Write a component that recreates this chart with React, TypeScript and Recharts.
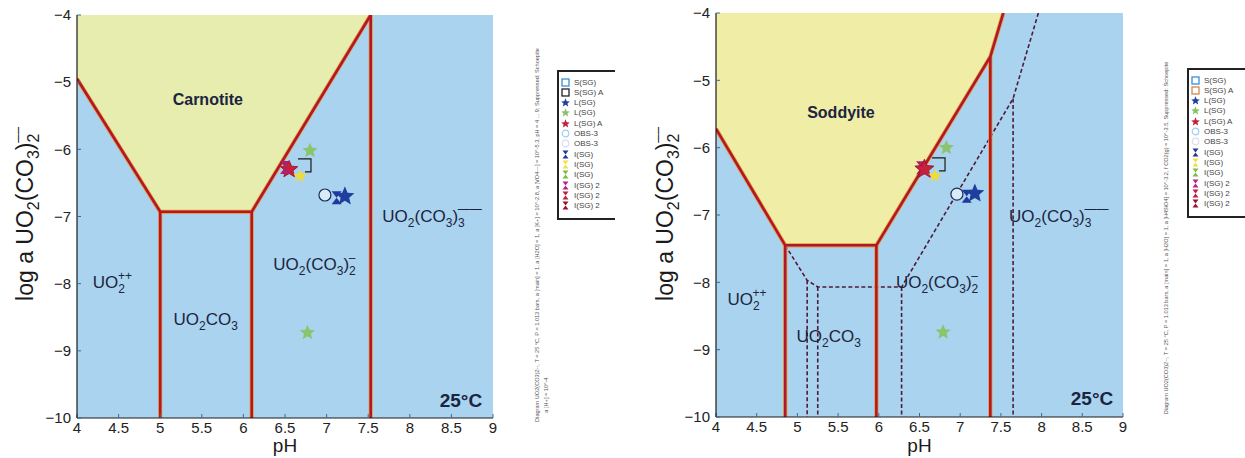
import React from "react";
import { ComposedChart, XAxis, YAxis, Area, Line, Scatter, CartesianGrid } from "recharts";

// ---------- axes ----------
const pHTicks = [4, 4.5, 5, 5.5, 6, 6.5, 7, 7.5, 8, 8.5, 9];
const logTicks = [-10, -9, -8, -7, -6, -5, -4];

// ---------- Carnotite diagram (left) ----------
const carnotiteField = [[4, -4.95], [5, -6.93], [6.1, -6.93], [7.53, -4]];
const carnotiteSolid = [
  [[4, -4.95], [5, -6.93], [6.1, -6.93], [7.53, -4]],
  [[5, -6.93], [5, -10]],
  [[6.1, -6.93], [6.1, -10]],
  [[7.53, -4], [7.53, -10]],
];
const carnotiteDashed: number[][][] = [];

// ---------- Soddyite diagram (right) ----------
const soddyiteField = [[4, -5.72], [4.85, -7.45], [5.97, -7.45], [7.37, -4.65], [7.53, -4]];
const soddyiteSolid = [
  [[4, -5.72], [4.85, -7.45], [5.97, -7.45], [7.37, -4.65], [7.53, -4]],
  [[4.85, -7.45], [4.85, -10]],
  [[5.97, -7.45], [5.97, -10]],
  [[7.37, -4.65], [7.37, -10]],
];
const soddyiteDashed = [
  [[4.85, -7.45], [5.12, -7.97], [5.25, -8.07], [6.28, -8.07], [7.65, -5.27], [7.96, -4]],
  [[5.12, -7.97], [5.12, -10]],
  [[5.25, -8.07], [5.25, -10]],
  [[6.28, -8.07], [6.28, -10]],
  [[7.65, -5.27], [7.65, -10]],
];

// ---------- sample points ----------
const bracketL = [[6.74, -6.23]];
const redStarL = [[6.55, -6.3]];
const magentaL = [[6.5, -6.27]];
const yellowL = [[6.68, -6.4]];
const greenStarL = [[6.8, -6.02], [6.77, -8.73]];
const circleL = [[6.98, -6.68]];
const blueHourL = [[7.12, -6.72]];
const blueStarL = [[7.22, -6.7]];

const bracketR = [[6.74, -6.24]];
const redStarR = [[6.56, -6.32]];
const magentaR = [[6.52, -6.3]];
const yellowR = [[6.69, -6.42]];
const greenStarR = [[6.83, -6.0], [6.79, -8.74]];
const circleR = [[6.96, -6.69]];
const blueHourR = [[7.08, -6.72]];
const blueStarR = [[7.18, -6.68]];

// ---------- region labels (left edge / baseline) ----------
const labelsL = [
  { id: "Carnotite", pH: 5.15, v: -5.34 },
  { id: "UO2++", pH: 4.19, v: -8.06 },
  { id: "UO2CO3", pH: 5.16, v: -8.61 },
  { id: "UO2(CO3)2-", pH: 6.36, v: -7.8 },
  { id: "UO2(CO3)3---", pH: 7.67, v: -7.08 },
  { id: "25°C", pH: 8.87, v: -9.83 },
];
const labelsR = [
  { id: "Soddyite", pH: 5.12, v: -5.56 },
  { id: "UO2++", pH: 4.14, v: -8.34 },
  { id: "UO2CO3", pH: 4.99, v: -8.89 },
  { id: "UO2(CO3)2-", pH: 6.21, v: -8.09 },
  { id: "UO2(CO3)3---", pH: 7.6, v: -7.11 },
  { id: "25°C", pH: 8.88, v: -9.82 },
];

// ---------- legend ----------
const legendNames = ["S(SG)", "S(SG) A", "L(SG)", "L(SG)", "L(SG) A", "OBS-3", "OBS-3", "I(SG)", "I(SG)", "I(SG)", "I(SG) 2", "I(SG) 2", "I(SG) 2"];
const legendKinds = ["sq", "sq", "star", "star", "star", "circ", "circ", "hour", "hour", "hour", "hour", "hour", "hour"];
const legendColorsL = ["#3b8fd9", "#222222", "#1f3f9f", "#86c46a", "#c2203c", "#9fcff0", "#dcdcee", "#23399a", "#f0e040", "#7cbf45", "#b8208c", "#c21e3e", "#9c1030"];
const legendColorsR = ["#3b8fd9", "#d08a50", "#1f3f9f", "#86c46a", "#c2203c", "#9fcff0", "#dcdcee", "#23399a", "#f0e040", "#7cbf45", "#b8208c", "#c21e3e", "#9c1030"];

const diagramNoteL =
  "Diagram UO2(CO3)2--,  T = 25 °C,  P = 1.013 bars,  a [main] = 1,  a [H2O] = 1,  a [K+] = 10^-2.8,  a [VO4---] = 10^-5.3,  pH = 4 ... 9;  Suppressed: Schoepite";
const diagramNoteL2 = "a [H+] = 10^-4";
const diagramNoteR =
  "Diagram UO2(CO3)2--,  T = 25 °C,  P = 1.013 bars,  a [main] = 1,  a [H2O] = 1,  a [H4SiO4] = 10^-3.2,  f CO2(g) = 10^-3.5,  Suppressed: Schoepite";

// ---------- helpers ----------
const toPts = (seg: number[][]) => seg.map(([pH, v]) => ({ pH, v }));
const toField = (f: number[][]) => f.map(([pH, v]) => ({ pH, r: [v, -4] }));
const minus = (v: number) => String(v).replace("-", "\u2212");

function starPath(cx: number, cy: number, R: number) {
  let d = "";
  for (let i = 0; i < 10; i++) {
    const rad = i % 2 === 0 ? R : R * 0.45;
    const a = -Math.PI / 2 + (i * Math.PI) / 5;
    d += (i ? "L" : "M") + (cx + rad * Math.cos(a)).toFixed(2) + "," + (cy + rad * Math.sin(a)).toFixed(2);
  }
  return d + "Z";
}
const hourPath = (cx: number, cy: number, s: number) =>
  `M${cx - s},${cy - s * 1.3}L${cx + s},${cy - s * 1.3}L${cx - s},${cy + s * 1.3}L${cx + s},${cy + s * 1.3}Z`;

const star = (fill: string, R: number, stroke = "none") => (p: any) =>
  <path d={starPath(p.cx, p.cy, R)} fill={fill} stroke={stroke} strokeWidth={0.8} />;
const hour = (fill: string, s: number) => (p: any) => <path d={hourPath(p.cx, p.cy, s)} fill={fill} />;
const bracket = (p: any) => (
  <path d={`M${p.cx - 7},${p.cy - 6}L${p.cx + 6},${p.cy - 6}L${p.cx + 6},${p.cy + 7}L${p.cx},${p.cy + 7}`} fill="none" stroke="#1a1a1a" strokeWidth={1.2} />
);
const circle = (p: any) => <circle cx={p.cx} cy={p.cy} r={6} fill="#d8ecf8" stroke="#1d2a60" strokeWidth={1.2} />;

const TXT = "#1c2440";
function RegionText(p: any) {
  const id = p.payload?.id ?? p.id;
  const x = p.cx;
  const y = p.cy;
  const F = 17;
  const S = 12;
  if (id === "Carnotite" || id === "Soddyite")
    return <text x={x} y={y} fontSize={16} fontWeight="bold" fill={TXT}>{id}</text>;
  if (id === "25°C")
    return <text x={x} y={y} fontSize={19} fontWeight="bold" fill={TXT} textAnchor="end">25°C</text>;
  if (id === "UO2++")
    return (
      <text x={x} y={y} fontSize={F} fill={TXT}>
        UO<tspan fontSize={S} dy={5}>2</tspan>
        <tspan fontSize={S} dx={-7} dy={-13}>++</tspan>
      </text>
    );
  if (id === "UO2CO3")
    return (
      <text x={x} y={y} fontSize={F} fill={TXT}>
        UO<tspan fontSize={S} dy={5}>2</tspan>
        <tspan dy={-5}>CO</tspan>
        <tspan fontSize={S} dy={5}>3</tspan>
      </text>
    );
  if (id === "UO2(CO3)2-")
    return (
      <text x={x} y={y} fontSize={F} fill={TXT}>
        UO<tspan fontSize={S} dy={5}>2</tspan>
        <tspan dy={-5}>(CO</tspan>
        <tspan fontSize={S} dy={5}>3</tspan>
        <tspan dy={-5}>)</tspan>
        <tspan fontSize={S} dy={5}>2</tspan>
        <tspan fontSize={S} dx={-7} dy={-13}>{"\u2013"}</tspan>
      </text>
    );
  if (id === "UO2(CO3)3---")
    return (
      <text x={x} y={y} fontSize={F} fill={TXT}>
        UO<tspan fontSize={S} dy={5}>2</tspan>
        <tspan dy={-5}>(CO</tspan>
        <tspan fontSize={S} dy={5}>3</tspan>
        <tspan dy={-5}>)</tspan>
        <tspan fontSize={S} dy={5}>3</tspan>
        <tspan fontSize={S} dx={-7} dy={-14}>{"\u2014\u2014"}</tspan>
      </text>
    );
  return null;
}

const YLabel = (props: any) => {
  const vb = props.viewBox || { x: 0, y: 0, width: 0, height: 0 };
  const cx = vb.x + 33;
  const cy = 214;
  return (
    <text x={cx} y={cy} transform={`rotate(-90 ${cx} ${cy})`} textAnchor="middle" fontSize={23} fill="#1a1a1a">
      log a UO<tspan fontSize={16} dy={6}>2</tspan>
      <tspan dy={-6}>(CO</tspan>
      <tspan fontSize={16} dy={6}>3</tspan>
      <tspan dy={-6}>)</tspan>
      <tspan fontSize={16} dy={6}>2</tspan>
      <tspan fontSize={14} dx={-9} dy={-17}>{"\u2013\u2013"}</tspan>
    </text>
  );
};
const XLabel = (props: any) => {
  const vb = props.viewBox || { x: 0, y: 0, width: 0, height: 0 };
  return (
    <text x={vb.x + vb.width / 2} y={452} textAnchor="middle" fontSize={19} fill="#1a1a1a">pH</text>
  );
};

type PanelProps = {
  left: number;
  width: number;
  top: number;
  bottom: number;
  yAxisWidth: number;
  field: number[][];
  fieldColor: string;
  solid: number[][][];
  dashed: number[][][];
  markers: { pts: number[][]; shape: any }[];
  labels: { id: string; pH: number; v: number }[];
};

function Panel(p: PanelProps) {
  const tickStyle = { fontSize: 15, fill: "#222" };
  return (
    <div style={{ position: "absolute", left: p.left, top: 0 }}>
      <ComposedChart
        width={p.width}
        height={458}
        data={toField(p.field)}
        margin={{ top: p.top, right: 7, left: 0, bottom: 0 }}
      >
        <CartesianGrid fill="#a9d3ee" fillOpacity={1} horizontal={false} vertical={false} stroke="none" />
        <XAxis
          xAxisId={0}
          dataKey="pH"
          type="number"
          domain={[4, 9]}
          ticks={pHTicks}
          allowDataOverflow
          height={p.bottom}
          tick={tickStyle}
          tickSize={-4}
          tickMargin={8}
          tickLine={{ stroke: "#3a6a9a" }}
          axisLine={{ stroke: "#1a1a1a", strokeWidth: 1.2 }}
          label={<XLabel />}
        />
        <XAxis
          xAxisId="top"
          orientation="top"
          dataKey="pH"
          type="number"
          domain={[4, 9]}
          ticks={pHTicks}
          allowDataOverflow
          height={0}
          tick={false}
          tickSize={-4}
          tickLine={{ stroke: "#3a6a9a" }}
          axisLine={{ stroke: "#1a1a1a", strokeWidth: 1.2 }}
        />
        <YAxis
          yAxisId={0}
          type="number"
          domain={[-10, -4]}
          ticks={logTicks}
          allowDataOverflow
          width={p.yAxisWidth}
          tick={tickStyle}
          tickSize={-4}
          tickMargin={10}
          tickFormatter={minus}
          tickLine={{ stroke: "#3a6a9a" }}
          axisLine={{ stroke: "#1a1a1a", strokeWidth: 1.2 }}
          label={<YLabel />}
        />
        <YAxis
          yAxisId="right"
          orientation="right"
          type="number"
          domain={[-10, -4]}
          ticks={logTicks}
          allowDataOverflow
          width={0}
          tick={false}
          tickSize={-4}
          tickLine={{ stroke: "#3a6a9a" }}
          axisLine={{ stroke: "#1a1a1a", strokeWidth: 1.2 }}
        />
        <Area
          dataKey="r"
          type="linear"
          fill={p.fieldColor}
          fillOpacity={1}
          stroke="none"
          isAnimationActive={false}
          activeDot={false}
          dot={false}
        />
        {p.dashed.map((seg, i) => (
          <Line
            key={"d" + i}
            data={toPts(seg)}
            dataKey="v"
            type="linear"
            stroke="#4e1c3a"
            strokeWidth={1.6}
            strokeDasharray="4 2.5"
            dot={false}
            activeDot={false}
            isAnimationActive={false}
          />
        ))}
        {p.solid.map((seg, i) => (
          <Line
            key={"su" + i}
            data={toPts(seg)}
            dataKey="v"
            type="linear"
            stroke="#e0a03a"
            strokeWidth={4.2}
            dot={false}
            activeDot={false}
            isAnimationActive={false}
          />
        ))}
        {p.solid.map((seg, i) => (
          <Line
            key={"s" + i}
            data={toPts(seg)}
            dataKey="v"
            type="linear"
            stroke="#b3152d"
            strokeWidth={2.6}
            dot={false}
            activeDot={false}
            isAnimationActive={false}
          />
        ))}
        {p.markers.map((m, i) => (
          <Scatter key={"m" + i} data={toPts(m.pts)} dataKey="v" shape={m.shape} isAnimationActive={false} />
        ))}
        <Scatter data={p.labels} dataKey="v" shape={(q: any) => <RegionText {...q} />} isAnimationActive={false} />
      </ComposedChart>
    </div>
  );
}

function LegendBox({ left, top, colors }: { left: number; top: number; colors: string[] }) {
  return (
    <div
      style={{
        position: "absolute",
        left,
        top,
        width: 56,
        height: 146,
        borderLeft: "2px solid #222",
        borderTop: "2px solid #222",
        borderBottom: "2px solid #222",
        overflow: "hidden",
        background: "#fff",
      }}
    >
      {legendNames.map((n, i) => (
        <div key={i} style={{ position: "absolute", left: 2, top: 5 + i * 10.3, height: 10, display: "flex", alignItems: "center", whiteSpace: "nowrap" }}>
          <svg width={9} height={9} style={{ marginRight: 4 }}>
            {legendKinds[i] === "sq" && <rect x={1} y={1} width={7} height={7} fill="none" stroke={colors[i]} strokeWidth={1.3} />}
            {legendKinds[i] === "star" && <path d={starPath(4.5, 4.8, 4.5)} fill={colors[i]} />}
            {legendKinds[i] === "circ" && <circle cx={4.5} cy={4.5} r={3.3} fill="none" stroke={colors[i]} strokeWidth={1.2} />}
            {legendKinds[i] === "hour" && <path d={hourPath(4.5, 4.5, 3)} fill={colors[i]} />}
          </svg>
          <span style={{ fontSize: 8, color: "#444", lineHeight: "9px" }}>{n}</span>
        </div>
      ))}
    </div>
  );
}

function Note({ x, y, text }: { x: number; y: number; text: string }) {
  return (
    <div
      style={{
        position: "absolute",
        left: x,
        top: y,
        transform: "translate(-50%, -50%) rotate(-90deg)",
        whiteSpace: "nowrap",
        fontSize: 5.6,
        color: "#555",
        lineHeight: "6px",
      }}
    >
      {text}
    </div>
  );
}

export default function App() {
  return (
    <div
      style={{
        position: "absolute",
        left: 0,
        top: 0,
        width: 1245,
        height: 458,
        background: "#fff",
        overflow: "hidden",
        fontFamily: "'Liberation Sans', Arial, sans-serif",
      }}
    >
      <Panel
        left={0}
        width={500}
        top={15}
        bottom={40}
        yAxisWidth={77}
        field={carnotiteField}
        fieldColor="#e6edae"
        solid={carnotiteSolid}
        dashed={carnotiteDashed}
        labels={labelsL}
        markers={[
          { pts: bracketL, shape: bracket },
          { pts: redStarL, shape: star("#c8203c", 9, "#8a1028") },
          { pts: magentaL, shape: hour("#b0206a", 5) },
          { pts: yellowL, shape: star("#eedc3a", 7) },
          { pts: greenStarL, shape: star("#8cc46e", 8) },
          { pts: circleL, shape: circle },
          { pts: blueHourL, shape: hour("#23399a", 5) },
          { pts: blueStarL, shape: star("#1f3f9f", 10) },
        ]}
      />
      <Note x={537} y={235} text={diagramNoteL} />
      <Note x={546} y={395} text={diagramNoteL2} />
      <LegendBox left={557} top={70} colors={legendColorsL} />

      <Panel
        left={640}
        width={490}
        top={13}
        bottom={41}
        yAxisWidth={76}
        field={soddyiteField}
        fieldColor="#f0eea6"
        solid={soddyiteSolid}
        dashed={soddyiteDashed}
        labels={labelsR}
        markers={[
          { pts: bracketR, shape: bracket },
          { pts: magentaR, shape: hour("#b0206a", 5) },
          { pts: redStarR, shape: star("#c8203c", 10, "#8a1028") },
          { pts: yellowR, shape: star("#eedc3a", 7) },
          { pts: greenStarR, shape: star("#8cc46e", 8) },
          { pts: circleR, shape: circle },
          { pts: blueHourR, shape: hour("#23399a", 5) },
          { pts: blueStarR, shape: star("#1f3f9f", 10) },
        ]}
      />
      <Note x={1166} y={238} text={diagramNoteR} />
      <LegendBox left={1187} top={68} colors={legendColorsR} />
    </div>
  );
}
